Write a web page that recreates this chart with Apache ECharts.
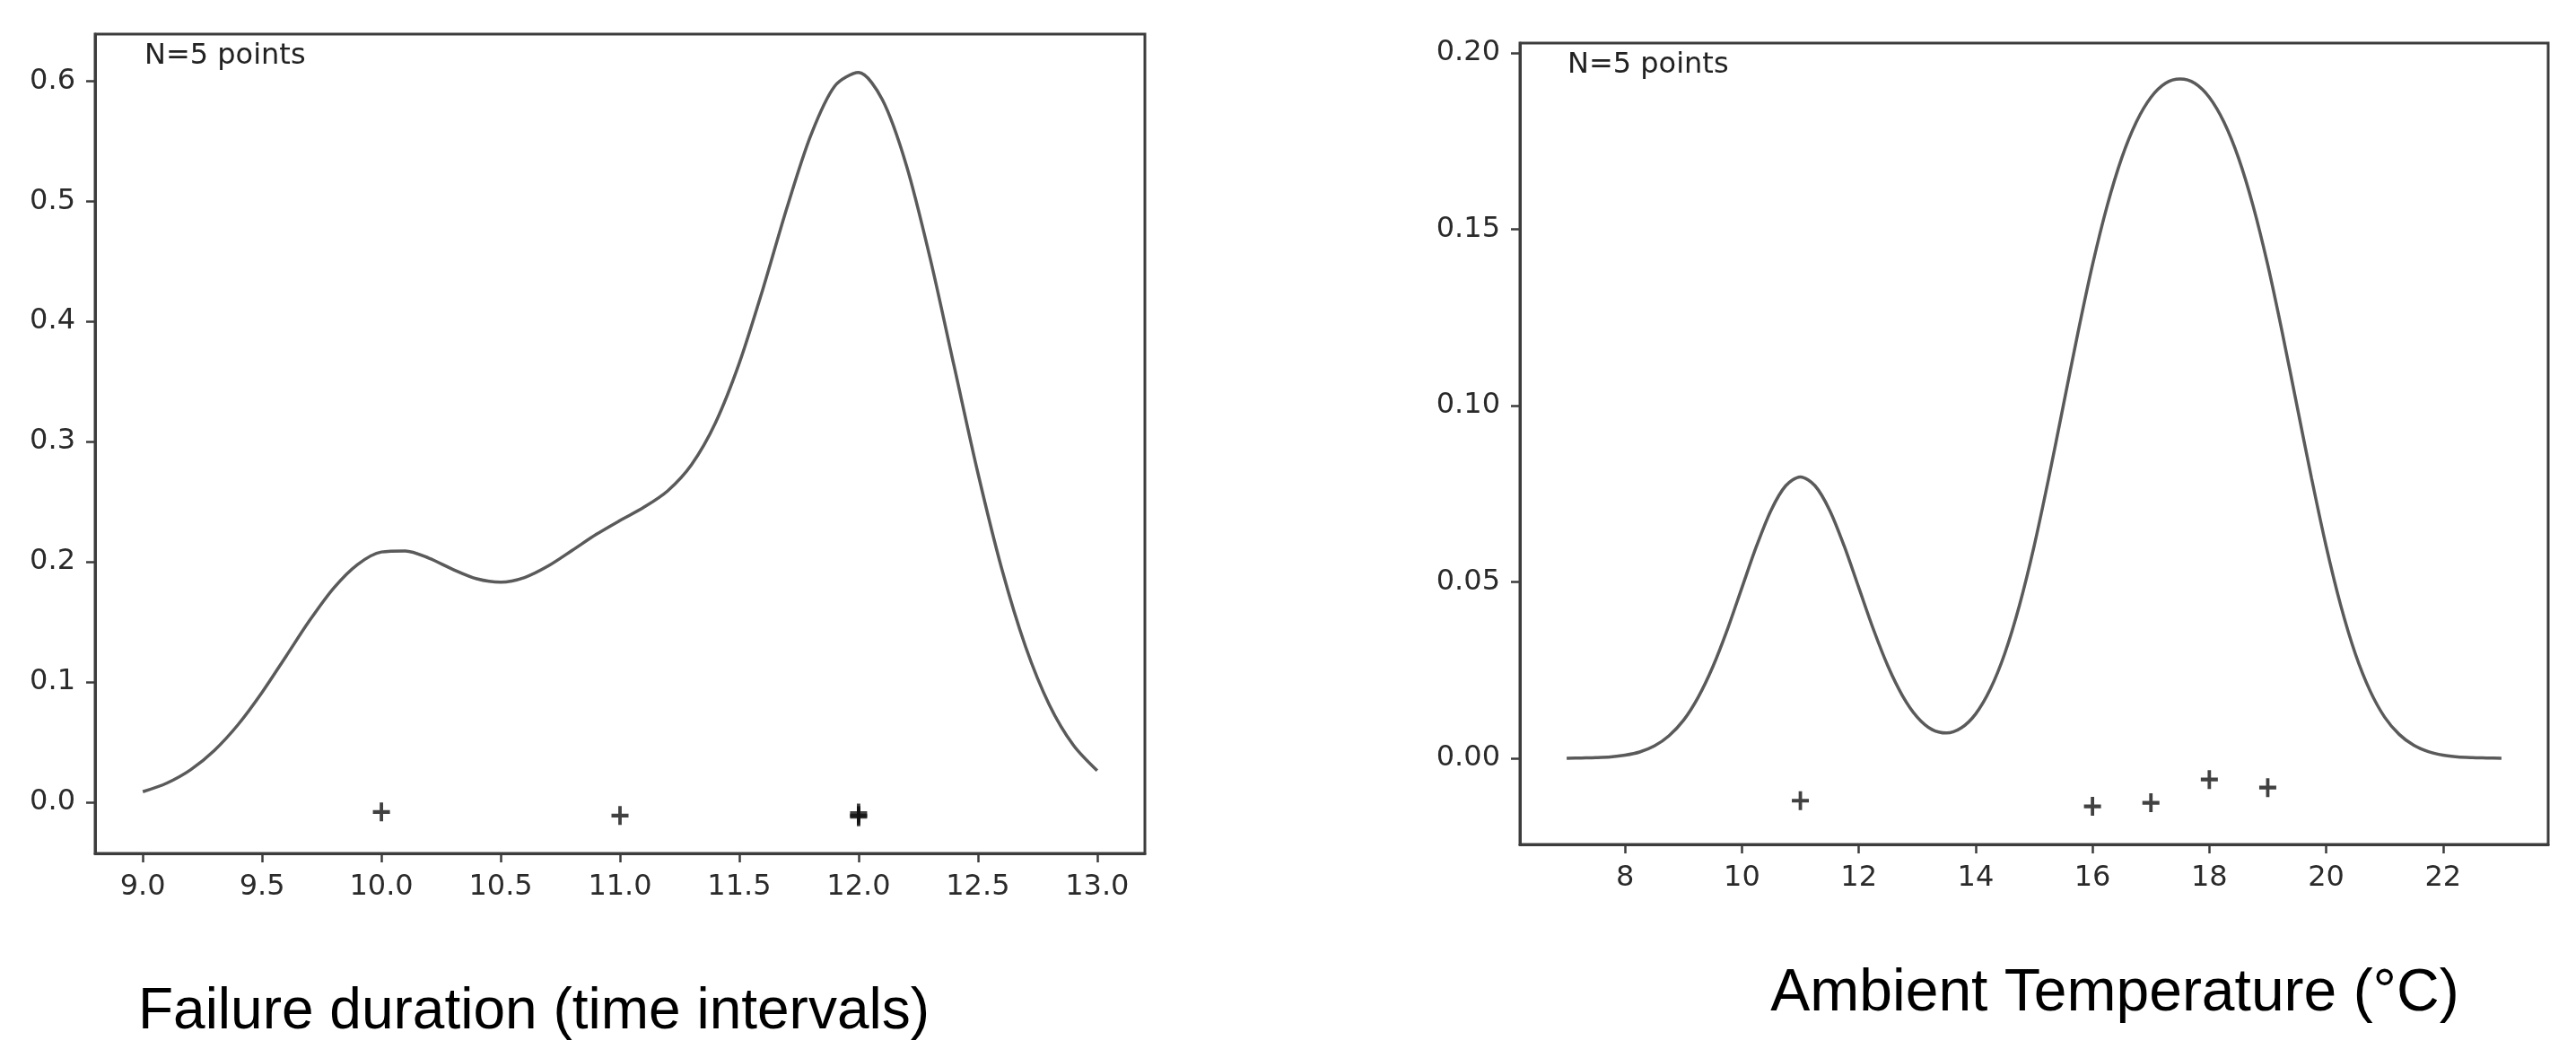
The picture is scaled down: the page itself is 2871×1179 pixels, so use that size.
<!DOCTYPE html>
<html><head><meta charset="utf-8">
<script src="https://cdn.jsdelivr.net/npm/echarts@6/dist/echarts.min.js"></script>
<style>html,body{margin:0;padding:0;background:#fff}#c{width:2871px;height:1179px}</style>
</head><body><div id="c"></div>
<script>
// ---- Left panel: Failure duration ----
const leftX = [9.0,9.1,9.2,9.3,9.4,9.5,9.6,9.7,9.8,9.9,10.0,10.1,10.2,10.3,10.4,10.5,10.6,10.7,10.8,10.9,11.0,11.1,11.2,11.3,11.4,11.5,11.6,11.7,11.8,11.9,12.0,12.1,12.2,12.3,12.4,12.5,12.6,12.7,12.8,12.9,13.0];
const leftDensity = [0.0088,0.0159,0.0270,0.0432,0.0648,0.0915,0.1214,0.1515,0.1782,0.1978,0.2082,0.2091,0.2030,0.1937,0.1859,0.1831,0.1870,0.1967,0.2096,0.2228,0.2344,0.2454,0.2591,0.2809,0.3156,0.3653,0.4276,0.4947,0.5549,0.5957,0.6070,0.5843,0.5301,0.4525,0.3632,0.2740,0.1943,0.1294,0.0809,0.0476,0.0263];
const leftPointsX = [10, 11, 12, 12, 12];
const leftPointsY = [-0.008, -0.011, -0.009, -0.011, -0.012];
const leftXTicks = [9.0, 9.5, 10.0, 10.5, 11.0, 11.5, 12.0, 12.5, 13.0];
const leftYTicks = [0.0, 0.1, 0.2, 0.3, 0.4, 0.5, 0.6];

// ---- Right panel: Ambient temperature ----
const rightX = [7.00,7.25,7.50,7.75,8.00,8.25,8.50,8.75,9.00,9.25,9.50,9.75,10.00,10.25,10.50,10.75,11.00,11.25,11.50,11.75,12.00,12.25,12.50,12.75,13.00,13.25,13.50,13.75,14.00,14.25,14.50,14.75,15.00,15.25,15.50,15.75,16.00,16.25,16.50,16.75,17.00,17.25,17.50,17.75,18.00,18.25,18.50,18.75,19.00,19.25,19.50,19.75,20.00,20.25,20.50,20.75,21.00,21.25,21.50,21.75,22.00,22.25,22.50,22.75,23.00];
const rightDensity = [0.0000,0.0001,0.0002,0.0004,0.0009,0.0018,0.0035,0.0064,0.0108,0.0173,0.0259,0.0365,0.0484,0.0602,0.0704,0.0773,0.0798,0.0773,0.0704,0.0602,0.0484,0.0366,0.0261,0.0177,0.0117,0.0082,0.0072,0.0086,0.0126,0.0196,0.0298,0.0434,0.0601,0.0794,0.1000,0.1206,0.1399,0.1566,0.1702,0.1804,0.1874,0.1914,0.1926,0.1914,0.1874,0.1804,0.1702,0.1566,0.1399,0.1206,0.1000,0.0794,0.0601,0.0433,0.0296,0.0192,0.0117,0.0068,0.0037,0.0019,0.0009,0.0004,0.0002,0.0001,0.0000];
const rightPointsX = [11, 16, 17, 18, 19];
const rightPointsY = [-0.012, -0.0136, -0.0126, -0.006, -0.0083];
const rightXTicks = [8, 10, 12, 14, 16, 18, 20, 22];
const rightYTicks = [0.00, 0.05, 0.10, 0.15, 0.20];

const annotation = 'N=5 points';
const leftTitle = 'Failure duration (time intervals)';
const rightTitle = 'Ambient Temperature (°C)';

const zip = (a, b) => a.map((v, i) => [v, b[i]]);
const plusPath = 'path://M4,0h2v4h4v2h-4v4h-2v-4h-4v-2h4z';
const frameColor = '#3c3c3c';
const tickFont = { fontFamily: 'DejaVu Sans', fontSize: 32, color: '#2a2a2a' };

function axisCfg(gi, min, max, ticks, dec) {
  return {
    type: 'value', gridIndex: gi, min: min, max: max,
    axisLine: { show: true, onZero: false, lineStyle: { color: frameColor, width: 3 } },
    axisTick: { show: true, customValues: ticks, length: 10, lineStyle: { color: frameColor, width: 2.5 } },
    axisLabel: Object.assign({ customValues: ticks, margin: 22, formatter: v => v.toFixed(dec) }, tickFont),
    splitLine: { show: false }
  };
}

const chart = echarts.init(document.getElementById('c'), null, { renderer: 'canvas' });
chart.setOption({
  backgroundColor: '#fff',
  animation: false,
  grid: [
    { left: 106, top: 38, width: 1170, height: 913, show: true, borderColor: frameColor, borderWidth: 3, backgroundColor: 'transparent' },
    { left: 1694, top: 48, width: 1146, height: 893, show: true, borderColor: frameColor, borderWidth: 3, backgroundColor: 'transparent' }
  ],
  xAxis: [
    axisCfg(0, 8.8, 13.2, leftXTicks, 1),
    axisCfg(1, 6.2, 23.8, rightXTicks, 0)
  ],
  yAxis: [
    axisCfg(0, -0.0425, 0.639, leftYTicks, 1),
    axisCfg(1, -0.0244, 0.2028, rightYTicks, 2)
  ],
  series: [
    { type: 'line', xAxisIndex: 0, yAxisIndex: 0, data: zip(leftX, leftDensity), showSymbol: false, smooth: 0.3,
      lineStyle: { color: '#5a5a5a', width: 3.5 } },
    { type: 'scatter', xAxisIndex: 0, yAxisIndex: 0, data: zip(leftPointsX, leftPointsY), symbol: plusPath,
      symbolSize: [19, 21], itemStyle: { color: '#111' } },
    { type: 'line', xAxisIndex: 1, yAxisIndex: 1, data: zip(rightX, rightDensity), showSymbol: false, smooth: 0.3,
      lineStyle: { color: '#5a5a5a', width: 3.5 } },
    { type: 'scatter', xAxisIndex: 1, yAxisIndex: 1, data: zip(rightPointsX, rightPointsY), symbol: plusPath,
      symbolSize: [19, 21], itemStyle: { color: '#111' } }
  ],
  graphic: [
    { type: 'text', left: 161, top: 47, style: { text: annotation, font: '32px "DejaVu Sans"', fill: '#222' } },
    { type: 'text', left: 1747, top: 57, style: { text: annotation, font: '32px "DejaVu Sans"', fill: '#222' } },
    { type: 'text', x: 595, y: 1128, style: { text: leftTitle, font: '64px "Liberation Sans"', fill: '#000', textAlign: 'center', textVerticalAlign: 'middle' } },
    { type: 'text', x: 2357, y: 1108, style: { text: rightTitle, font: '66px "Liberation Sans"', fill: '#000', textAlign: 'center', textVerticalAlign: 'middle' } }
  ]
});
</script>
</body></html>
